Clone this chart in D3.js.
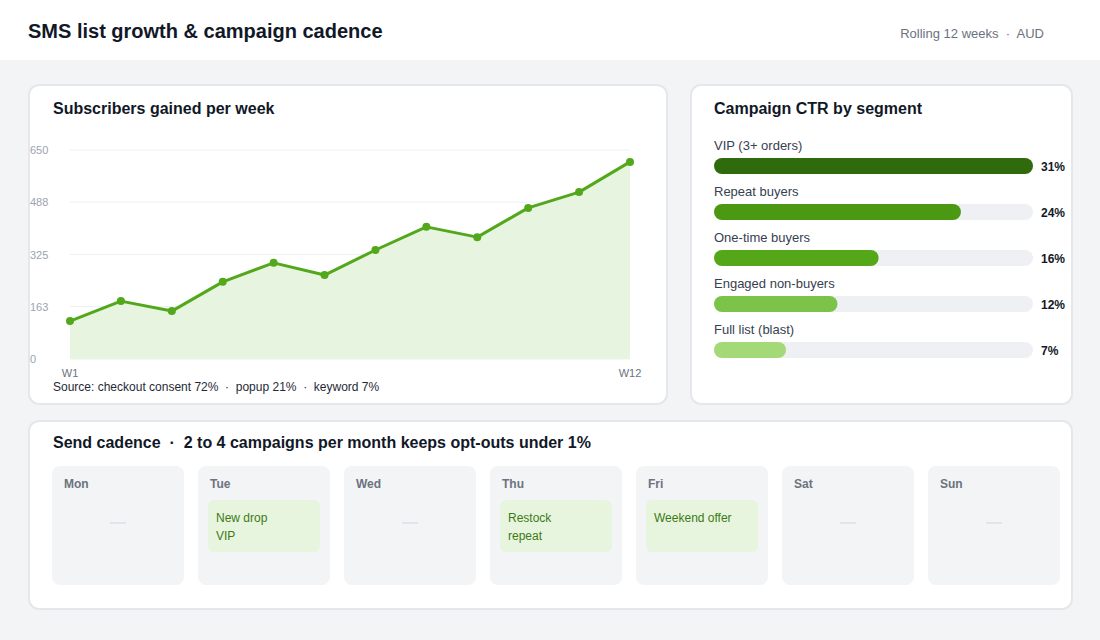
<!DOCTYPE html>
<html>
<head>
<meta charset="utf-8">
<script src="https://cdn.jsdelivr.net/npm/d3@7"></script>
<style>
  body { margin: 0; background: #f3f4f6; font-family: "Liberation Sans", Arial, Helvetica, sans-serif; }
  svg { display: block; }
  svg text { white-space: pre; }
</style>
</head>
<body>
<svg id="chart" width="1100" height="640"></svg>
<script>
// Weekly subscriber gains
var weeks = ["W1", "W2", "W3", "W4", "W5", "W6", "W7", "W8", "W9", "W10", "W11", "W12"];
var subscribers = [118, 180, 149, 240, 299, 261, 339, 411, 379, 470, 519, 613];
var yTicks = [0, 163, 325, 488, 650];

// CTR by segment
var segments = ["VIP (3+ orders)", "Repeat buyers", "One-time buyers", "Engaged non-buyers", "Full list (blast)"];
var ctr = [31, 24, 16, 12, 7];
var segColors = ["#2f6b0c", "#4b9913", "#53a718", "#7cc34a", "#a3d977"];

// Send cadence
var days = ["Mon", "Tue", "Wed", "Thu", "Fri", "Sat", "Sun"];
var campaigns = [null, ["New drop", "VIP"], null, ["Restock", "repeat"], ["Weekend offer"], null, null];

var svg = d3.select("#chart");

// header
svg.append("rect").attr("x", 0).attr("y", 0).attr("width", 1100).attr("height", 60).attr("fill", "#fff");
svg.append("text").attr("x", 28).attr("y", 38).attr("font-size", 20).attr("font-weight", 700)
    .attr("fill", "#111827").text("SMS list growth & campaign cadence");
svg.append("text").attr("x", 1044).attr("y", 38).attr("text-anchor", "end").attr("font-size", 13)
    .attr("fill", "#6b7280").text("Rolling 12 weeks  \u00b7  AUD");

// cards
function card(x, y, w, h) {
    svg.append("rect").attr("x", x).attr("y", y).attr("width", w).attr("height", h)
        .attr("rx", 10).attr("fill", "#fff").attr("stroke", "#e5e7eb").attr("stroke-width", 2);
}
card(29, 85, 638, 319);
card(691, 85, 381, 319);
card(29, 421, 1043, 188);

function cardTitle(x, y, t) {
    svg.append("text").attr("x", x).attr("y", y).attr("font-size", 16).attr("font-weight", 700)
        .attr("fill", "#111827").text(t);
}

// ---- line chart ----
cardTitle(53, 114, "Subscribers gained per week");
var x = d3.scalePoint().domain(weeks).range([70, 630]);
var y = d3.scaleLinear().domain([0, 650]).range([359, 150]);
var g1 = svg.append("g");

g1.selectAll(".grid").data(yTicks).enter().append("line")
    .attr("x1", 70).attr("x2", 630)
    .attr("y1", function(d) { return y(d); }).attr("y2", function(d) { return y(d); })
    .attr("stroke", "#eef0f2").attr("stroke-width", 1);

g1.selectAll(".ytick").data(yTicks).enter().append("text")
    .attr("x", 30).attr("y", function(d) { return y(d) + 4; })
    .attr("font-size", 11).attr("fill", "#9ca3af")
    .text(function(d) { return d; });

var area = d3.area()
    .x(function(d, i) { return x(weeks[i]); })
    .y0(y(0)).y1(function(d) { return y(d); });
var line = d3.line()
    .x(function(d, i) { return x(weeks[i]); })
    .y(function(d) { return y(d); });

g1.append("path").datum(subscribers).attr("d", area).attr("fill", "#e7f4df");
g1.append("path").datum(subscribers).attr("d", line).attr("fill", "none")
    .attr("stroke", "#52a81a").attr("stroke-width", 3).attr("stroke-linejoin", "round");
g1.selectAll(".dot").data(subscribers).enter().append("circle")
    .attr("cx", function(d, i) { return x(weeks[i]); })
    .attr("cy", function(d) { return y(d); })
    .attr("r", 4).attr("fill", "#52a81a");

[weeks[0], weeks[weeks.length - 1]].forEach(function(w) {
    g1.append("text").attr("x", x(w)).attr("y", 377).attr("text-anchor", "middle")
        .attr("font-size", 11).attr("fill", "#6b7280").text(w);
});
g1.append("text").attr("x", 53).attr("y", 391).attr("font-size", 12).attr("fill", "#1f2937")
    .text("Source: checkout consent 72%  \u00b7  popup 21%  \u00b7  keyword 7%");

// ---- CTR bars ----
cardTitle(714, 114, "Campaign CTR by segment");
var bx = d3.scaleLinear().domain([0, d3.max(ctr)]).range([714, 1033]);
var by = d3.scaleBand().domain(segments).range([136, 366]);
var g2 = svg.append("g");
var rows = g2.selectAll(".row").data(segments).enter().append("g")
    .attr("transform", function(d) { return "translate(0," + by(d) + ")"; });
rows.append("text").attr("x", 714).attr("y", 14).attr("font-size", 13).attr("fill", "#374151")
    .text(function(d) { return d; });
rows.append("rect").attr("x", 714).attr("y", 22).attr("height", 16).attr("rx", 8)
    .attr("width", bx(d3.max(ctr)) - 714).attr("fill", "#eef0f3");
rows.append("rect").attr("x", 714).attr("y", 22).attr("height", 16).attr("rx", 8)
    .attr("width", function(d, i) { return bx(ctr[i]) - 714; })
    .attr("fill", function(d, i) { return segColors[i]; });
rows.append("text").attr("x", 1041).attr("y", 35).attr("font-size", 12).attr("font-weight", 700)
    .attr("fill", "#111827").text(function(d, i) { return ctr[i] + "%"; });

// ---- cadence ----
cardTitle(53, 448, "Send cadence  \u00b7  2 to 4 campaigns per month keeps opt-outs under 1%");
var dx = d3.scaleBand().domain(days).range([52, 1060]).paddingInner(14 / 146);
var cols = svg.selectAll(".day").data(days).enter().append("g")
    .attr("transform", function(d) { return "translate(" + dx(d) + ",466)"; });
cols.append("rect").attr("width", dx.bandwidth()).attr("height", 119).attr("rx", 8).attr("fill", "#f3f4f6");
cols.append("text").attr("x", 12).attr("y", 22).attr("font-size", 12).attr("font-weight", 700)
    .attr("fill", "#6b7280").text(function(d) { return d; });
cols.each(function(d, i) {
    var c = d3.select(this);
    var ev = campaigns[i];
    if (ev) {
        c.append("rect").attr("x", 10).attr("y", 34).attr("width", dx.bandwidth() - 20).attr("height", 52)
            .attr("rx", 6).attr("fill", "#e7f5de");
        ev.forEach(function(t, j) {
            c.append("text").attr("x", 18).attr("y", 56 + j * 18).attr("font-size", 12)
                .attr("fill", "#3d7a16").text(t);
        });
    } else {
        c.append("line").attr("x1", dx.bandwidth() / 2 - 8).attr("x2", dx.bandwidth() / 2 + 8)
            .attr("y1", 57).attr("y2", 57).attr("stroke", "#d1d5db").attr("stroke-width", 1);
    }
});
</script>
</body>
</html>
